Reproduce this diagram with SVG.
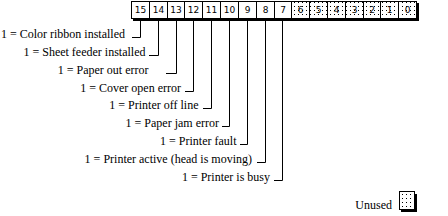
<svg xmlns="http://www.w3.org/2000/svg" width="448" height="216" viewBox="0 0 448 216">
<style>
.lbl{font-family:"Liberation Serif","Times New Roman",serif;font-size:12px;fill:#000;text-anchor:end}
.num{font-family:"DejaVu Sans","Liberation Sans",sans-serif;font-size:9px;fill:#000;text-anchor:middle}
.cell{fill:#fff;stroke:#000;stroke-width:1}
.dot{fill:url(#dots);stroke:#000;stroke-width:1}
.shadow{fill:#000}
.lead{fill:none;stroke:#000;stroke-width:1}
</style>
<defs>
<pattern id="dots" width="4" height="4" patternUnits="userSpaceOnUse" x="1" y="1">
<rect width="4" height="4" fill="#fff"/>
<rect x="1" y="1" width="1" height="1" fill="#000"/>
</pattern>
</defs>
<rect width="448" height="216" fill="#fff"/>
<g id="register">
<rect class="shadow" x="133" y="19" width="286" height="2"/>
<rect class="shadow" x="417" y="3" width="2" height="18"/>
<rect class="cell" x="131.5" y="1.5" width="160" height="17"/>
<rect class="dot" x="291.5" y="1.5" width="125" height="17"/>
<path class="lead" d="M149.5 1.5V18.5M167.5 1.5V18.5M184.5 1.5V18.5M202.5 1.5V18.5M220.5 1.5V18.5M238.5 1.5V18.5M256.5 1.5V18.5M274.5 1.5V18.5M291.5 1.5V18.5M309.5 1.5V18.5M327.5 1.5V18.5M345.5 1.5V18.5M363.5 1.5V18.5M380.5 1.5V18.5M398.5 1.5V18.5"/>
<text class="num" x="140.5" y="13">15</text>
<text class="num" x="158.5" y="13">14</text>
<text class="num" x="176" y="13">13</text>
<text class="num" x="193.5" y="13">12</text>
<text class="num" x="211.5" y="13">11</text>
<text class="num" x="229.5" y="13">10</text>
<text class="num" x="247.5" y="13">9</text>
<text class="num" x="265.5" y="13">8</text>
<text class="num" x="283" y="13">7</text>
<text class="num" x="300.5" y="13">6</text>
<text class="num" x="318.5" y="13">5</text>
<text class="num" x="336.5" y="13">4</text>
<text class="num" x="354.5" y="13">3</text>
<text class="num" x="372" y="13">2</text>
<text class="num" x="389.5" y="13">1</text>
<text class="num" x="407.5" y="13">0</text>
</g>
<g id="connectors">
<path class="lead" d="M140.5 21V37.5H132"/>
<path class="lead" d="M158.5 21V55.5H149"/>
<path class="lead" d="M176.5 21V73.5H166"/>
<path class="lead" d="M193.5 21V91.5H185"/>
<path class="lead" d="M211.5 21V108.5H203"/>
<path class="lead" d="M229.5 21V126.5H222"/>
<path class="lead" d="M247.5 21V144.5H240"/>
<path class="lead" d="M265.5 21V162.5H257"/>
<path class="lead" d="M282.5 21V180.5H274"/>
</g>
<g id="bit15"><text class="lbl" x="125" y="38">1 = Color ribbon installed</text></g>
<g id="bit14"><text class="lbl" x="145.5" y="56">1 = Sheet feeder installed</text></g>
<g id="bit13"><text class="lbl" x="148.5" y="74">1 = Paper out error</text></g>
<g id="bit12"><text class="lbl" x="181" y="92">1 = Cover open error</text></g>
<g id="bit11"><text class="lbl" x="198.5" y="109">1 = Printer off line</text></g>
<g id="bit10"><text class="lbl" x="219" y="127">1 = Paper jam error</text></g>
<g id="bit9"><text class="lbl" x="236.5" y="145">1 = Printer fault</text></g>
<g id="bit8"><text class="lbl" x="252" y="163">1 = Printer active (head is moving)</text></g>
<g id="bit7"><text class="lbl" x="270" y="181">1 = Printer is busy</text></g>
<g id="legend">
<text class="lbl" x="392" y="209">Unused</text>
<rect class="shadow" x="401" y="210" width="16" height="2"/>
<rect class="shadow" x="415" y="194" width="2" height="18"/>
<rect class="dot" x="399.5" y="191.5" width="15" height="18"/>
</g>
</svg>
